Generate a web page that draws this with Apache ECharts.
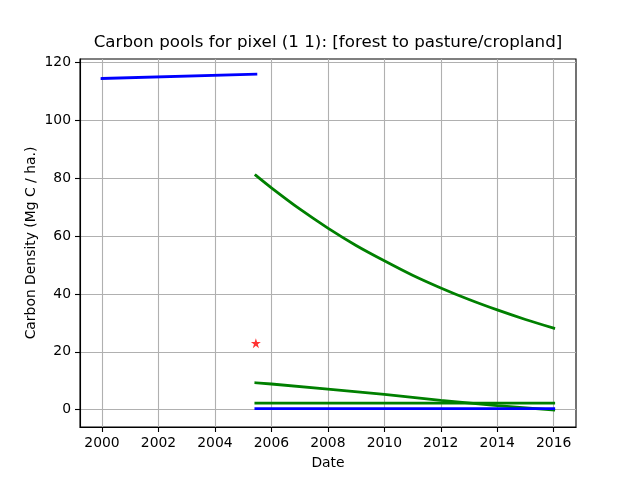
<!DOCTYPE html>
<html>
<head>
<meta charset="utf-8">
<script src="https://cdn.jsdelivr.net/npm/echarts@6/dist/echarts.min.js"></script>
<style>
  html, body { margin: 0; padding: 0; background: #fff; }
  #chart { width: 640px; height: 480px; }
</style>
</head>
<body>
<div id="chart"></div>
<script>
// 数据
const xTicks = [2000, 2002, 2004, 2006, 2008, 2010, 2012, 2014, 2016];
const yTicks = [0, 20, 40, 60, 80, 100, 120];

// 森林生物量（转换前）
const forestYears = [2000, 2005.45];
const forestValues = [114.5, 116.0];

// 衰减碳池
const decayYears = [2005.45, 2006, 2007, 2008, 2009, 2010, 2011, 2012, 2013, 2014, 2015, 2016];
const decayValues = [81.0, 76.7, 69.4, 62.8, 56.8, 51.5, 46.5, 42.1, 38.1, 34.5, 31.2, 28.2];

// 凋落物
const litterYears = [2005.45, 2006, 2008, 2010, 2012, 2014, 2016];
const litterValues = [9.3, 8.9, 7.1, 5.3, 3.2, 1.4, -0.1];

// 平稳的两条线
const flatYears = [2005.45, 2016];
const flatGreenValues = [2.3, 2.3];
const flatBlueValues = [0.4, 0.4];

// 转换点
const eventYear = [2005.45];
const eventValue = [23.0];

const zip = (xs, ys) => xs.map((x, i) => [x, ys[i]]);

const FONT = 'DejaVu Sans';
const BLUE = '#0000ff';
const GREEN = '#008000';
const LW = 2.8;
const STAR = 'path://M50,0 L61.8,35.5 L100,35.5 L69.1,57.7 L80.9,93.5 L50,71.4 L19.1,93.5 L30.9,57.7 L0,35.5 L38.2,35.5 Z';

const chart = echarts.init(document.getElementById('chart'), null, { renderer: 'canvas' });

function lineSeries(xs, ys, color) {
  return {
    type: 'line',
    data: zip(xs, ys),
    showSymbol: false,
    symbol: 'none',
    lineStyle: { color: color, width: LW, cap: 'square' },
    itemStyle: { color: color },
    animation: false
  };
}

const decay = lineSeries(decayYears, decayValues, GREEN);
decay.smooth = 0.3;

chart.setOption({
  animation: false,
  backgroundColor: '#fff',
  title: {
    text: 'Carbon pools for pixel (1 1): [forest to pasture/cropland]',
    left: 328,
    textAlign: 'center',
    top: 34,
    padding: 0,
    textStyle: { fontFamily: FONT, fontSize: 16.7, fontWeight: 'normal', color: '#000' }
  },
  grid: {
    left: 80,
    right: 64,
    top: 59,
    bottom: 53,
    show: true,
    borderColor: '#000',
    borderWidth: 1.1,
    backgroundColor: 'transparent'
  },
  xAxis: {
    type: 'value',
    min: 1999.22,
    max: 2016.79,
    name: 'Date',
    nameLocation: 'middle',
    nameGap: 29,
    nameMoveOverlap: false,
    nameTextStyle: { fontFamily: FONT, fontSize: 13.9, color: '#000' },
    axisLine: { show: true, onZero: false, lineStyle: { color: '#000', width: 1.1 } },
    axisTick: { show: true, inside: false, length: 5, customValues: xTicks, lineStyle: { color: '#000', width: 1.1 } },
    axisLabel: { customValues: xTicks, margin: 9, fontFamily: FONT, fontSize: 13.9, color: '#000', formatter: v => String(Math.round(v)) },
    splitLine: { show: true, lineStyle: { color: '#b0b0b0', width: 1.1 } }
  },
  yAxis: {
    type: 'value',
    min: -5.97,
    max: 121.24,
    name: 'Carbon Density (Mg C / ha.)',
    nameLocation: 'middle',
    nameGap: 42,
    nameMoveOverlap: false,
    nameRotate: 90,
    nameTextStyle: { fontFamily: FONT, fontSize: 13.9, color: '#000' },
    axisLine: { show: true, onZero: false, lineStyle: { color: '#000', width: 1.1 } },
    axisTick: { show: true, inside: false, length: 5, customValues: yTicks, lineStyle: { color: '#000', width: 1.1 } },
    axisLabel: { customValues: yTicks, margin: 9, fontFamily: FONT, fontSize: 13.9, color: '#000', formatter: v => String(Math.round(v)) },
    splitLine: { show: true, lineStyle: { color: '#b0b0b0', width: 1.1 } }
  },
  series: [
    lineSeries(forestYears, forestValues, BLUE),
    decay,
    lineSeries(litterYears, litterValues, GREEN),
    lineSeries(flatYears, flatGreenValues, GREEN),
    lineSeries(flatYears, flatBlueValues, BLUE),
    {
      type: 'scatter',
      data: zip(eventYear, eventValue),
      symbol: STAR,
      symbolSize: 10,
      itemStyle: { color: '#ff0000' },
      animation: false
    }
  ]
});
</script>
</body>
</html>
